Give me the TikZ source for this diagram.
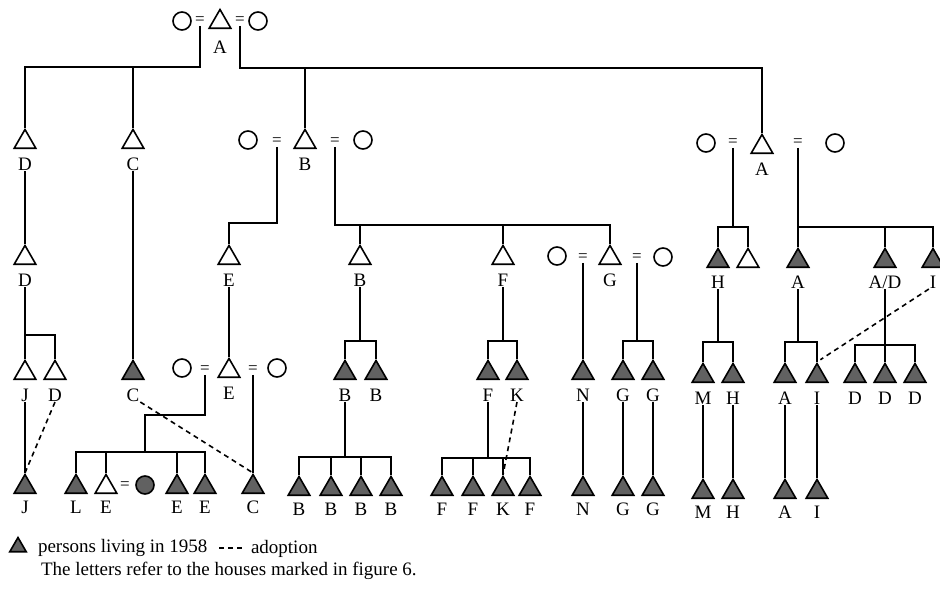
\documentclass[tikz,border=0pt]{standalone}
\usepackage{fontspec}
\setmainfont{Liberation Serif}
\usetikzlibrary{positioning,shapes.geometric}

\begin{document}
\begin{tikzpicture}[x=1pt,y=-1pt,line width=2pt,node distance=8pt,
  man/.style={regular polygon,regular polygon sides=3,draw,line width=1.6pt,inner sep=0pt,minimum size=25pt},
  lives/.style={man,fill=black!62},
  woman/.style={circle,draw,line width=1.6pt,inner sep=0pt,minimum size=18pt},
  wed/.style={inner sep=0pt,font=\fontsize{17}{17}\selectfont},
  tag/.style={inner sep=0pt,text height=12pt,text depth=0pt,font=\fontsize{19}{19}\selectfont},
  adopt/.style={dash pattern=on 5pt off 4pt,line width=1.6pt},
  note/.style={inner sep=0pt,anchor=base west,font=\fontsize{19}{21}\selectfont}]
\useasboundingbox[fill=white] (0,0) rectangle (940,591);

\node[woman] (w0a) at (182,21) {};
\node[wed] (e0a) at (200,21) {=};
\node[man] (A0) at (220,22) {};
\node[wed] (e0b) at (240,21) {=};
\node[woman] (w0b) at (258,21) {};
\node[tag,below=11pt of A0] (lA0) {A};

\node[man] (D1) at (25,142) {};
\node[tag,below=of D1] (lD1) {D};
\node[man] (C1) at (133,142) {};
\node[tag,below=of C1] (lC1) {C};
\node[woman] (w1a) at (248,140) {};
\node[wed] (e1a) at (277,142) {=};
\node[man] (B1) at (305,142) {};
\node[tag,below=of B1] (lB1) {B};
\node[wed] (e1b) at (335,142) {=};
\node[woman] (w1b) at (363,140) {};
\node[woman] (w1c) at (706,143) {};
\node[wed] (e1c) at (733,143) {=};
\node[man] (A1) at (762,147) {};
\node[tag,below=of A1] (lA1) {A};
\node[wed] (e1d) at (798,143) {=};
\node[woman] (w1d) at (835,143) {};

\node[man] (D2) at (25,258) {};
\node[tag,below=of D2] (lD2) {D};
\node[man] (E2) at (229,258) {};
\node[tag,below=of E2] (lE2) {E};
\node[man] (B2) at (360,258) {};
\node[tag,below=of B2] (lB2) {B};
\node[man] (F2) at (503,258) {};
\node[tag,below=of F2] (lF2) {F};
\node[woman] (w2a) at (557,256) {};
\node[wed] (e2a) at (583,258) {=};
\node[man] (G2) at (610,258) {};
\node[tag,below=of G2] (lG2) {G};
\node[wed] (e2b) at (637,258) {=};
\node[woman] (w2b) at (663,257) {};
\node[lives] (H2) at (718,261) {};
\node[tag,below=7pt of H2] (lH2) {H};
\node[man] (X2) at (748,261) {};
\node[lives] (A2) at (798,261) {};
\node[tag,below=7pt of A2] (lA2) {A};
\node[lives] (AD2) at (885,261) {};
\node[tag,below=7pt of AD2] (lAD2) {A/D};
\node[lives] (I2) at (933,261) {};
\node[tag,below=7pt of I2] (lI2) {I};

\node[man] (J3) at (25,373) {};
\node[tag,below=of J3] (lJ3) {J};
\node[man] (D3) at (55,373) {};
\node[tag,below=of D3] (lD3) {D};
\node[lives] (C3) at (133,373) {};
\node[tag,below=of C3] (lC3) {C};
\node[woman] (w3a) at (182,368) {};
\node[wed] (e3a) at (205,370) {=};
\node[man] (E3) at (229,371) {};
\node[tag,below=of E3] (lE3) {E};
\node[wed] (e3b) at (253,370) {=};
\node[woman] (w3b) at (277,368) {};
\node[lives] (B3a) at (345,373) {};
\node[tag,below=of B3a] (lB3a) {B};
\node[lives] (B3b) at (376,373) {};
\node[tag,below=of B3b] (lB3b) {B};
\node[lives] (F3) at (488,373) {};
\node[tag,below=of F3] (lF3) {F};
\node[lives] (K3) at (517,373) {};
\node[tag,below=of K3] (lK3) {K};
\node[lives] (N3) at (583,373) {};
\node[tag,below=of N3] (lN3) {N};
\node[lives] (G3a) at (623,373) {};
\node[tag,below=of G3a] (lG3a) {G};
\node[lives] (G3b) at (653,373) {};
\node[tag,below=of G3b] (lG3b) {G};
\node[lives] (M3) at (703,376) {};
\node[tag,below=of M3] (lM3) {M};
\node[lives] (H3) at (733,376) {};
\node[tag,below=of H3] (lH3) {H};
\node[lives] (A3) at (785,376) {};
\node[tag,below=of A3] (lA3) {A};
\node[lives] (I3) at (817,376) {};
\node[tag,below=of I3] (lI3) {I};
\node[lives] (D3a) at (855,376) {};
\node[tag,below=of D3a] (lD3a) {D};
\node[lives] (D3b) at (885,376) {};
\node[tag,below=of D3b] (lD3b) {D};
\node[lives] (D3c) at (915,376) {};
\node[tag,below=of D3c] (lD3c) {D};

\node[lives] (J4) at (25,487) {};
\node[tag,below=6pt of J4] (lJ4) {J};
\node[lives] (L4) at (76,487) {};
\node[tag,below=6pt of L4] (lL4) {L};
\node[man] (E4a) at (106,487) {};
\node[tag,below=6pt of E4a] (lE4a) {E};
\node[wed] (e4) at (125,486) {=};
\node[woman,fill=black!62] (w4) at (145,485) {};
\node[lives] (E4c) at (177,487) {};
\node[tag,below=6pt of E4c] (lE4c) {E};
\node[lives] (E4d) at (205,487) {};
\node[tag,below=6pt of E4d] (lE4d) {E};
\node[lives] (C4) at (253,487) {};
\node[tag,below=6pt of C4] (lC4) {C};
\node[lives] (B4a) at (299,489) {};
\node[tag,below=6pt of B4a] (lB4a) {B};
\node[lives] (B4b) at (331,489) {};
\node[tag,below=6pt of B4b] (lB4b) {B};
\node[lives] (B4c) at (361,489) {};
\node[tag,below=6pt of B4c] (lB4c) {B};
\node[lives] (B4d) at (391,489) {};
\node[tag,below=6pt of B4d] (lB4d) {B};
\node[lives] (F4a) at (442,489) {};
\node[tag,below=6pt of F4a] (lF4a) {F};
\node[lives] (F4b) at (473,489) {};
\node[tag,below=6pt of F4b] (lF4b) {F};
\node[lives] (K4) at (503,489) {};
\node[tag,below=6pt of K4] (lK4) {K};
\node[lives] (F4d) at (530,489) {};
\node[tag,below=6pt of F4d] (lF4d) {F};
\node[lives] (N4) at (583,489) {};
\node[tag,below=6pt of N4] (lN4) {N};
\node[lives] (G4a) at (623,489) {};
\node[tag,below=6pt of G4a] (lG4a) {G};
\node[lives] (G4b) at (653,489) {};
\node[tag,below=6pt of G4b] (lG4b) {G};
\node[lives] (M4) at (703,492) {};
\node[tag,below=6pt of M4] (lM4) {M};
\node[lives] (H4) at (733,492) {};
\node[tag,below=6pt of H4] (lH4) {H};
\node[lives] (A4) at (785,492) {};
\node[tag,below=6pt of A4] (lA4) {A};
\node[lives] (I4) at (817,492) {};
\node[tag,below=6pt of I4] (lI4) {I};

\coordinate (j0a) at (200,67);
\coordinate (j0b) at (240,68);
\coordinate (j1a) at (277,223);
\coordinate (j1b) at (335,225);
\coordinate (j1c) at (733,227);
\coordinate (j1d) at (798,227);
\coordinate (j2a) at (25,335);
\coordinate (j2b) at (360,341);
\coordinate (j2c) at (503,341);
\coordinate (j2d) at (637,341);
\coordinate (j2e) at (718,342);
\coordinate (j2f) at (798,342);
\coordinate (j2g) at (885,345);
\coordinate (j3a) at (145,415);
\coordinate (j3b) at (145,452);
\coordinate (j3c) at (345,457);
\coordinate (j3d) at (488,458);

\draw (e0a.south) -- (j0a) -| (D1.north);
\draw (C1.north) -- (C1.north |- j0a);
\draw (e0b.south) -- (j0b) -| (A1.north);
\draw (B1.north) -- (B1.north |- j0b);
\draw (lD1.south) -- (D2.north);
\draw (lC1.south) -- (C3.north);
\draw (e1a.south) -- (j1a) -| (E2.north);
\draw (e1b.south) -- (j1b) -| (G2.north);
\draw (B2.north) -- (B2.north |- j1b);
\draw (F2.north) -- (F2.north |- j1b);
\draw (e1c.south) -- (j1c);
\draw (H2.north) |- (j1c) -| (X2.north);
\draw (e1d.south) -- (A2.north);
\draw (j1d) -| (I2.north);
\draw (AD2.north) -- (AD2.north |- j1d);
\draw (lD2.south) -- (J3.north);
\draw (j2a) -| (D3.north);
\draw (lE2.south) -- (E3.north);
\draw (lB2.south) -- (j2b);
\draw (B3a.north) |- (j2b) -| (B3b.north);
\draw (lF2.south) -- (j2c);
\draw (F3.north) |- (j2c) -| (K3.north);
\draw (e2a.south) -- (N3.north);
\draw (e2b.south) -- (j2d);
\draw (G3a.north) |- (j2d) -| (G3b.north);
\draw (lH2.south) -- (j2e);
\draw (M3.north) |- (j2e) -| (H3.north);
\draw (lA2.south) -- (j2f);
\draw (A3.north) |- (j2f) -| (I3.north);
\draw (lAD2.south) -- (j2g);
\draw (D3a.north) |- (j2g) -| (D3c.north);
\draw (D3b.north) -- (j2g);
\draw (lJ3.south) -- (J4.north);
\draw (e3a.south) |- (j3a) -- (j3b);
\draw (L4.north) |- (j3b) -| (E4d.north);
\draw (E4a.north) -- (E4a.north |- j3b);
\draw (E4c.north) -- (E4c.north |- j3b);
\draw (e3b.south) -- (C4.north);
\draw (lB3a.south) -- (j3c);
\draw (B4a.north) |- (j3c) -| (B4d.north);
\draw (B4b.north) -- (B4b.north |- j3c);
\draw (B4c.north) -- (B4c.north |- j3c);
\draw (lF3.south) -- (j3d);
\draw (F4a.north) |- (j3d) -| (F4d.north);
\draw (F4b.north) -- (F4b.north |- j3d);
\draw (K4.north) -- (K4.north |- j3d);
\draw (lN3.south) -- (N4.north);
\draw (lG3a.south) -- (G4a.north);
\draw (lG3b.south) -- (G4b.north);
\draw (lM3.south) -- (M4.north);
\draw (lH3.south) -- (H4.north);
\draw (lA3.south) -- (A4.north);
\draw (lI3.south) -- (I4.north);

\draw[adopt] (lD3.south) -- (J4.north);
\draw[adopt] (lC3.south east) -- (C4.north);
\draw[adopt] (lK3.south) -- (K4.north);
\draw[adopt,shorten >=4pt] (lI2.south west) -- (I3.north);

\node[lives,minimum size=19pt] (key) at (18,547) {};
\node[note] (keytxt) at (37,552) {persons living in 1958};
\coordinate (dashL) at (219,548);
\coordinate (dashR) at (243,548);
\draw[adopt] (dashL) -- (dashR);
\node[note] (adtxt) at (250,553) {adoption};
\node[note] (figtxt) at (40,575) {The letters refer to the houses marked in figure 6.};
\end{tikzpicture}
\end{document}
